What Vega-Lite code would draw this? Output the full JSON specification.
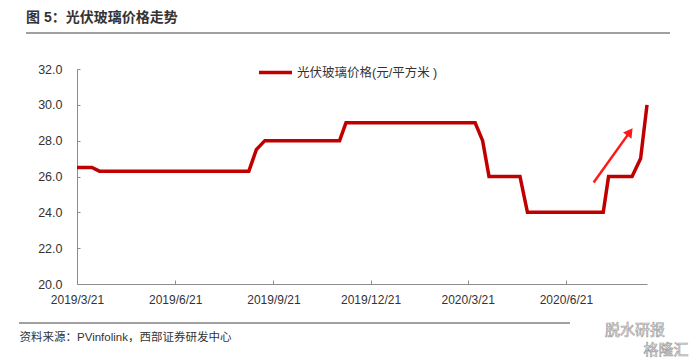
{
  "$schema": "https://vega.github.io/schema/vega-lite/v6.json",
  "width": 570,
  "height": 215,
  "autosize": {"type": "none"},
  "padding": {"left": 77, "top": 69, "right": 45, "bottom": 79},
  "background": "white",
  "config": {
    "view": {"stroke": null},
    "font": "Liberation Sans, Noto Sans CJK SC",
    "legend": {"padding": 0},
    "axis": {"labelOverlap": false}
  },
  "title": {
    "text": "图 5：光伏玻璃价格走势",
    "anchor": "start",
    "frame": "group",
    "orient": "top",
    "offset": 0,
    "dx": -51,
    "baseline": "middle",
    "fontSize": 14,
    "fontWeight": "bold",
    "color": "#333333",
    "font": "Liberation Sans, Noto Sans CJK SC"
  },
  "layer": [
    {
      "data": {
        "values": [
          {"date": "2019-03-21", "price": 26.5, "series": "光伏玻璃价格(元/平方米 )"},
          {"date": "2019-04-04", "price": 26.5, "series": "光伏玻璃价格(元/平方米 )"},
          {"date": "2019-04-11", "price": 26.3, "series": "光伏玻璃价格(元/平方米 )"},
          {"date": "2019-08-29", "price": 26.3, "series": "光伏玻璃价格(元/平方米 )"},
          {"date": "2019-09-05", "price": 27.5, "series": "光伏玻璃价格(元/平方米 )"},
          {"date": "2019-09-13", "price": 28.0, "series": "光伏玻璃价格(元/平方米 )"},
          {"date": "2019-11-22", "price": 28.0, "series": "光伏玻璃价格(元/平方米 )"},
          {"date": "2019-11-28", "price": 29.0, "series": "光伏玻璃价格(元/平方米 )"},
          {"date": "2020-03-28", "price": 29.0, "series": "光伏玻璃价格(元/平方米 )"},
          {"date": "2020-04-04", "price": 28.0, "series": "光伏玻璃价格(元/平方米 )"},
          {"date": "2020-04-10", "price": 26.0, "series": "光伏玻璃价格(元/平方米 )"},
          {"date": "2020-05-09", "price": 26.0, "series": "光伏玻璃价格(元/平方米 )"},
          {"date": "2020-05-16", "price": 24.0, "series": "光伏玻璃价格(元/平方米 )"},
          {"date": "2020-07-26", "price": 24.0, "series": "光伏玻璃价格(元/平方米 )"},
          {"date": "2020-07-31", "price": 26.0, "series": "光伏玻璃价格(元/平方米 )"},
          {"date": "2020-08-22", "price": 26.0, "series": "光伏玻璃价格(元/平方米 )"},
          {"date": "2020-08-30", "price": 27.0, "series": "光伏玻璃价格(元/平方米 )"},
          {"date": "2020-09-05", "price": 30.0, "series": "光伏玻璃价格(元/平方米 )"}
        ],
        "format": {"parse": {"date": "date:'%Y-%m-%d'"}}
      },
      "mark": {"type": "line", "strokeWidth": 3.5, "interpolate": "linear"},
      "encoding": {
        "x": {
          "field": "date",
          "type": "temporal",
          "scale": {"domain": [{"year": 2019, "month": 3, "date": 21}, {"year": 2020, "month": 9, "date": 5}], "nice": false},
          "axis": {
            "values": [
              {"year": 2019, "month": 3, "date": 21},
              {"year": 2019, "month": 6, "date": 21},
              {"year": 2019, "month": 9, "date": 21},
              {"year": 2019, "month": 12, "date": 21},
              {"year": 2020, "month": 3, "date": 21},
              {"year": 2020, "month": 6, "date": 21}
            ],
            "labelExpr": "timeFormat(datum.value, '%Y/%-m/%-d')",
            "grid": false,
            "domainColor": "#8c8c8c",
            "tickColor": "#8c8c8c",
            "tickSize": -4,
            "labelPadding": 14,
            "labelFontSize": 12,
            "labelColor": "#333333",
            "labelFlush": false,
            "labelOverlap": false,
            "title": "资料来源：PVinfolink，西部证券研发中心",
            "titleAnchor": "start",
            "titleAlign": "left",
            "titleX": -58,
            "titleY": 53,
            "titleBaseline": "middle",
            "titleFontSize": 11.5,
            "titleFontWeight": "normal",
            "titleColor": "#333333"
          }
        },
        "y": {
          "field": "price",
          "type": "quantitative",
          "scale": {"domain": [20, 32], "nice": false, "zero": false},
          "axis": {
            "tickCount": 7,
            "labelExpr": "format(datum.value, '.1f')",
            "grid": false,
            "domainColor": "#8c8c8c",
            "tickColor": "#8c8c8c",
            "tickSize": -3,
            "labelPadding": 18,
            "labelFontSize": 12.5,
            "labelColor": "#333333",
            "labelOverlap": false,
            "labelFlush": false,
            "labelBound": false,
            "title": null
          }
        },
        "color": {
          "field": "series",
          "type": "nominal",
          "scale": {"range": ["#C00000"]},
          "legend": {
            "title": null,
            "orient": "none",
            "legendX": 180,
            "legendY": -15,
            "symbolType": "stroke",
            "symbolSize": 1089,
            "symbolStrokeWidth": 3.5,
            "labelFontSize": 12.5,
            "labelColor": "#333333",
            "labelOffset": 3,
            "symbolOffset": 0
          }
        }
      }
    },
    {
      "data": {
        "values": [
          {"start": "2020-07-17", "low": 25.66, "end": "2020-08-20", "high": 28.49}
        ],
        "format": {"parse": {"start": "date:'%Y-%m-%d'", "end": "date:'%Y-%m-%d'"}}
      },
      "layer": [
        {
          "mark": {"type": "rule", "stroke": "#FF1A1A", "strokeWidth": 2.5},
          "encoding": {
            "x": {"field": "start", "type": "temporal"},
            "y": {"field": "low", "type": "quantitative"},
            "x2": {"field": "end"},
            "y2": {"field": "high"}
          }
        },
        {
          "mark": {"type": "point", "shape": "triangle-up", "filled": true, "fill": "#FF1A1A", "stroke": null, "size": 110, "angle": 36, "opacity": 1},
          "encoding": {
            "x": {"field": "end", "type": "temporal"},
            "y": {"field": "high", "type": "quantitative"}
          }
        }
      ]
    },
    {
      "data": {"values": [{"line": "title"}]},
      "mark": {"type": "rule", "color": "#a0a0a0", "strokeWidth": 2},
      "encoding": {
        "x": {"value": -51},
        "x2": {"value": 593},
        "y": {"value": -36}
      }
    },
    {
      "data": {"values": [{"line": "source"}]},
      "mark": {"type": "rule", "color": "#a0a0a0", "strokeWidth": 2},
      "encoding": {
        "x": {"value": -58},
        "x2": {"value": 493},
        "y": {"value": 254}
      }
    },
    {
      "data": {"values": [{"label": "脱水研报"}]},
      "mark": {"type": "text", "fontSize": 15, "fill": "#ffffff", "stroke": "#a0a0a0", "strokeWidth": 0.7, "align": "center", "baseline": "middle", "font": "Noto Sans CJK SC"},
      "encoding": {
        "text": {"field": "label"},
        "x": {"value": 558},
        "y": {"value": 261}
      }
    },
    {
      "data": {"values": [{"label": "格隆汇"}]},
      "mark": {"type": "text", "fontSize": 15, "fill": "#ffffff", "stroke": "#a0a0a0", "strokeWidth": 0.7, "align": "center", "baseline": "middle", "font": "Noto Sans CJK SC"},
      "encoding": {
        "text": {"field": "label"},
        "x": {"value": 589},
        "y": {"value": 281}
      }
    }
  ]
}
